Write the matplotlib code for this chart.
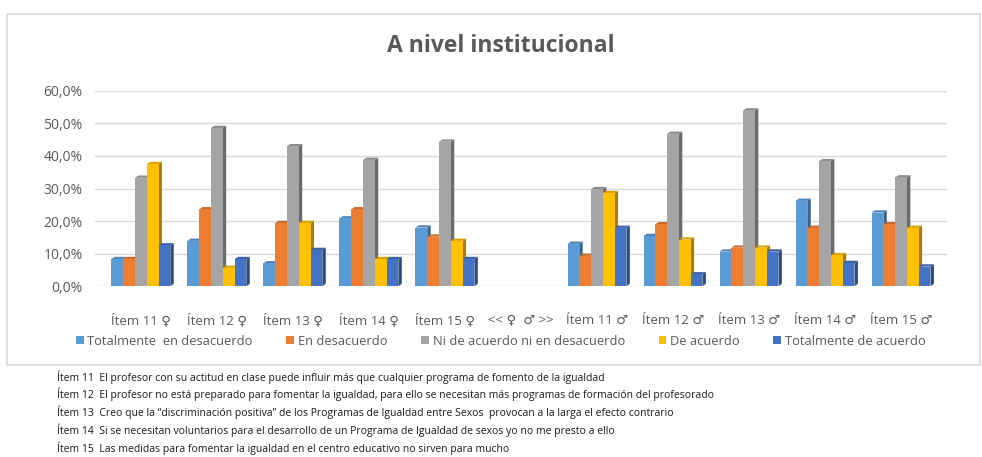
import numpy as np
import matplotlib.pyplot as plt
from matplotlib.patches import Rectangle, Polygon
from matplotlib.colors import to_rgb

plt.rcParams['font.family'] = ['Open Sans', 'DejaVu Sans']

# Datos (porcentajes)
categorias = ['Ítem 11 ♀', 'Ítem 12 ♀', 'Ítem 13 ♀', 'Ítem 14 ♀', 'Ítem 15 ♀', '<< ♀  ♂ >>',
              'Ítem 11 ♂', 'Ítem 12 ♂', 'Ítem 13 ♂', 'Ítem 14 ♂', 'Ítem 15 ♂']
series = ['Totalmente  en desacuerdo', 'En desacuerdo', 'Ni de acuerdo ni en desacuerdo',
          'De acuerdo', 'Totalmente de acuerdo']
tot_desacuerdo = [8.3, 13.9, 7.0, 20.8, 18.0, np.nan, 13.0, 15.4, 10.6, 26.2, 22.6]
en_desacuerdo = [8.3, 23.6, 19.4, 23.6, 15.2, np.nan, 9.3, 19.0, 11.8, 17.9, 19.0]
ni_ni = [33.3, 48.6, 43.0, 38.8, 44.4, np.nan, 29.8, 46.8, 54.0, 38.4, 33.4]
de_acuerdo = [37.5, 5.6, 19.4, 8.3, 13.9, np.nan, 28.6, 14.3, 11.8, 9.5, 17.9]
tot_acuerdo = [12.5, 8.3, 11.1, 8.3, 8.3, np.nan, 17.9, 3.6, 10.6, 7.1, 6.0]
colores = ['#5B9BD5', '#ED7D31', '#A5A5A5', '#FFC000', '#4472C4']

notas = [
    'Ítem 11  El profesor con su actitud en clase puede influir más que cualquier programa de fomento de la igualdad',
    'Ítem 12  El profesor no está preparado para fomentar la igualdad, para ello se necesitan más programas de formación del profesorado',
    'Ítem 13  Creo que la “discriminación positiva” de los Programas de Igualdad entre Sexos  provocan a la larga el efecto contrario',
    'Ítem 14  Si se necesitan voluntarios para el desarrollo de un Programa de Igualdad de sexos yo no me presto a ello',
    'Ítem 15  Las medidas para fomentar la igualdad en el centro educativo no sirven para mucho',
]

valores = [tot_desacuerdo, en_desacuerdo, ni_ni, de_acuerdo, tot_acuerdo]


def oscurecer(c, f):
    r, g, b = to_rgb(c)
    return (r * f, g * f, b * f)


fig = plt.figure(figsize=(9.82, 4.57), dpi=100)

# marco del grafico
fig.patches.append(Rectangle((7 / 982, 1 - 365 / 457), 973 / 982, 351 / 457,
                             transform=fig.transFigure, fill=False,
                             edgecolor='#D9D9D9', linewidth=1.2))

ax = fig.add_axes([0.097, 0.374, 0.867, 0.427])

x = np.arange(len(categorias))
w = 0.155
lado = 0.045
dy = 0.7

for i, (vals, col) in enumerate(zip(valores, colores)):
    vals = np.array(vals, dtype=float)
    pos = x + (i - 2) * w
    # cara lateral y superior (efecto 3D)
    for p, v in zip(pos, vals):
        if np.isnan(v):
            continue
        ax.add_patch(Polygon([(p + w / 2, 0), (p + w / 2 + lado, dy), (p + w / 2 + lado, v + dy), (p + w / 2, v)],
                             closed=True, facecolor=oscurecer(col, 0.65), edgecolor='none', zorder=3 + 2 * i))
        ax.add_patch(Polygon([(p - w / 2, v), (p - w / 2 + lado, v + dy), (p + w / 2 + lado, v + dy), (p + w / 2, v)],
                             closed=True, facecolor=oscurecer(col, 0.85), edgecolor='none', zorder=3 + 2 * i))
    ax.bar(pos, vals, width=w, color=col, label=series[i], zorder=4 + 2 * i)

ax.set_xlim(-0.6, 10.6)
ax.set_ylim(0, 60)
ax.set_yticks(np.arange(0, 61, 10))
ax.set_yticklabels([f'{v:.1f}%'.replace('.', ',') for v in np.arange(0, 61, 10)],
                   fontsize=10, color='#595959')
ax.set_xticks(x)
ax.set_xticklabels(categorias, fontsize=9.5, color='#595959')
ax.tick_params(length=0)
ax.tick_params(axis='x', pad=20)
ax.tick_params(axis='y', pad=9)
ax.grid(axis='y', color='#D9D9D9', linewidth=1)
ax.set_axisbelow(True)
for s in ax.spines.values():
    s.set_visible(False)

fig.text(0.51, 0.9, 'A nivel institucional', ha='center', va='center', fontsize=16.5,
         fontweight='bold', color='#595959')

h, l = ax.get_legend_handles_labels()
fig.legend(h, l, loc='center', bbox_to_anchor=(0.51, 0.253), ncol=5, frameon=False,
           fontsize=9.3, handlelength=0.6, handleheight=0.6, handletextpad=0.3,
           columnspacing=2.6, labelcolor='#595959')

for k, t in enumerate(notas):
    fig.text(57 / 982, 1 - (377 + 17.7 * k) / 457, t, ha='left', va='center', fontsize=7.5, color='#1a1a1a')

fig.savefig('out.png', dpi=100)
